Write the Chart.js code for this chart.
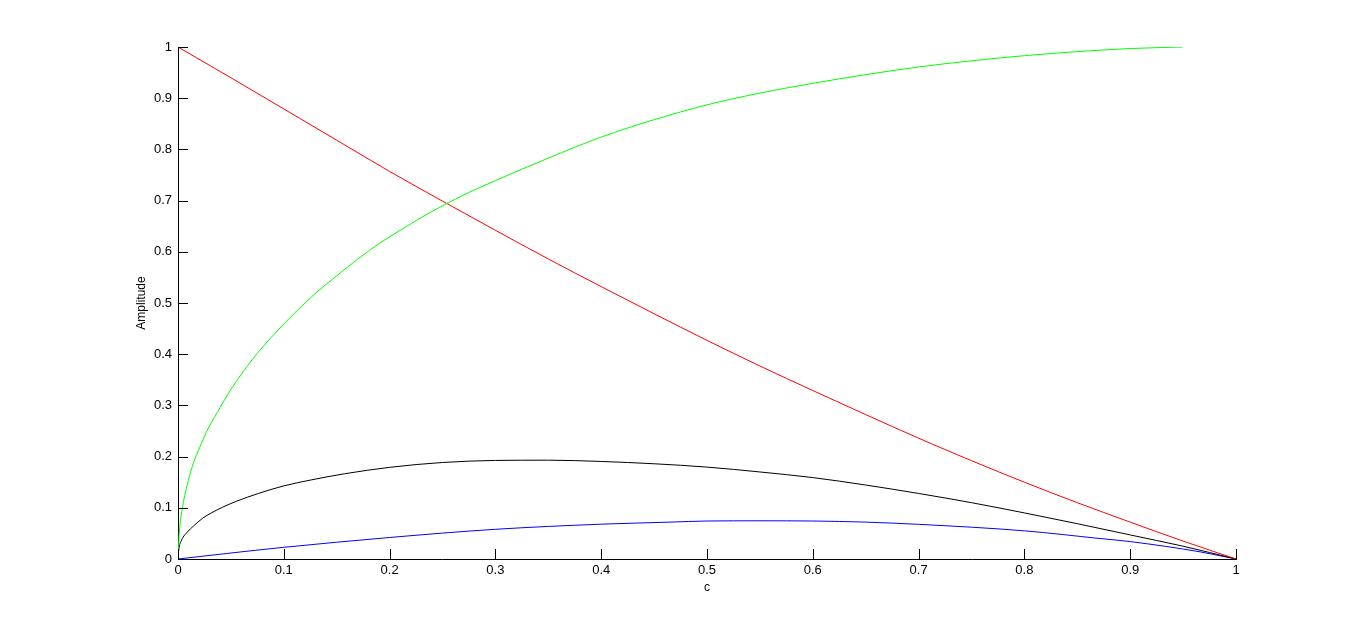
<!DOCTYPE html>
<html>
<head>
<meta charset="utf-8">
<script src="https://cdn.jsdelivr.net/npm/chart.js@4.4.0/dist/chart.umd.min.js"></script>
<style>
html,body{margin:0;padding:0;background:#fff;}
#wrap{width:1366px;height:628px;}
</style>
</head>
<body>
<div id="wrap"><canvas id="c" width="1366" height="628"></canvas></div>
<script>
// Tick positions
const xTicks = [0,0.1,0.2,0.3,0.4,0.5,0.6,0.7,0.8,0.9,1];
const yTicks = [0,0.1,0.2,0.3,0.4,0.5,0.6,0.7,0.8,0.9,1];

// Red series
const redC = [0,0.05,0.1,0.15,0.2,0.25,0.3,0.35,0.4,0.45,0.5,0.55,0.6,0.65,0.7,0.75,0.8,0.85,0.9,0.95,1];
const redV = [1,0.94,0.879,0.818,0.757,0.699,0.642,0.586,0.532,0.479,0.427,0.377,0.329,0.282,0.236,0.192,0.150,0.110,0.072,0.035,0];

// Green series
const greenC = [0,0.0012,0.0044,0.0098,0.0145,0.0208,0.0271,0.0366,0.05,0.07,0.09,0.11,0.13,0.15,0.17,0.19,0.21,0.23,0.25,0.275,0.3,0.35,0.4,0.45,0.5,0.55,0.6,0.65,0.7,0.75,0.8,0.85,0.9,0.9496];
const greenV = [0,0.05,0.102,0.154,0.187,0.219,0.249,0.2845,0.331,0.389,0.437,0.480,0.519,0.553,0.586,0.616,0.642,0.667,0.690,0.716,0.739,0.783,0.824,0.858,0.887,0.910,0.929,0.946,0.961,0.973,0.983,0.991,0.997,1.0];

// Black series
const blackC = [0,0.0006,0.0035,0.009,0.0145,0.0232,0.0315,0.042,0.0555,0.076,0.0996,0.126,0.1575,0.2,0.25,0.3,0.35,0.4,0.45,0.5,0.55,0.6,0.65,0.7,0.75,0.8,0.85,0.9,0.95,1];
const blackV = [0,0.016,0.037,0.053,0.064,0.0795,0.090,0.101,0.113,0.128,0.1426,0.1545,0.1665,0.179,0.1885,0.1925,0.193,0.1905,0.186,0.1795,0.170,0.159,0.1445,0.128,0.110,0.090,0.069,0.047,0.025,0];

// Blue series
const blueC = [0,0.047,0.1,0.2,0.3,0.4,0.465,0.5,0.55,0.6,0.65,0.7,0.8,0.8715,0.9,0.966,1];
const blueV = [0,0.011,0.0228,0.042,0.058,0.068,0.072,0.0742,0.0746,0.0742,0.072,0.0677,0.055,0.040,0.034,0.014,0];

const toPts = (cs, vs) => cs.map((c, i) => ({x: c, y: vs[i]}));
const fmt = v => (Math.round(v * 10) / 10).toString();

const inwardTicks = {
  id: 'inwardTicks',
  afterDatasetsDraw(chart) {
    const {ctx, chartArea: a, scales: {x, y}} = chart;
    ctx.save();
    ctx.strokeStyle = '#000';
    ctx.lineWidth = 1;
    ctx.beginPath();
    xTicks.forEach(v => {
      const px = Math.round(x.getPixelForValue(v)) + 0.5;
      ctx.moveTo(px, a.bottom);
      ctx.lineTo(px, a.bottom - 10);
    });
    yTicks.forEach(v => {
      const py = Math.round(y.getPixelForValue(v)) + 0.5;
      ctx.moveTo(a.left, py);
      ctx.lineTo(a.left + 10, py);
    });
    ctx.stroke();
    ctx.restore();
  }
};

const tickFont = {family: "'Liberation Sans', Arial, sans-serif", size: 13};
const titleFont = {family: "'Liberation Sans', Arial, sans-serif", size: 12};

new Chart(document.getElementById('c'), {
  type: 'line',
  data: {
    datasets: [
      {data: toPts(greenC, greenV), borderColor: '#00ff00'},
      {data: toPts(redC, redV), borderColor: '#ff0000'},
      {data: toPts(blackC, blackV), borderColor: '#000000'},
      {data: toPts(blueC, blueV), borderColor: '#0000ff'}
    ]
  },
  options: {
    responsive: false,
    animation: false,
    layout: {padding: {left: 134, right: 130, top: 47, bottom: 33}},
    plugins: {legend: {display: false}, tooltip: {enabled: false}},
    elements: {
      point: {radius: 0},
      line: {borderWidth: 1, tension: 0, cubicInterpolationMode: 'monotone', fill: false}
    },
    scales: {
      x: {
        type: 'linear', min: 0, max: 1,
        afterFit(s) { s.height = 36; },
        afterBuildTicks(s) { s.ticks = xTicks.map(v => ({value: v})); },
        grid: {display: false, drawTicks: false},
        border: {display: true, color: '#000', width: 1},
        ticks: {padding: 4, color: '#000', font: tickFont, maxRotation: 0, autoSkip: false, callback: v => fmt(v)},
        title: {display: true, text: 'c', color: '#000', font: titleFont, padding: 0}
      },
      y: {
        type: 'linear', min: 0, max: 1,
        afterFit(s) { s.width = 44; },
        afterBuildTicks(s) { s.ticks = yTicks.map(v => ({value: v})); },
        grid: {display: false, drawTicks: false},
        border: {display: true, color: '#000', width: 1},
        ticks: {padding: 6, color: '#000', font: tickFont, autoSkip: false, callback: v => fmt(v)},
        title: {display: true, text: 'Amplitude', color: '#000', font: titleFont, padding: 0}
      }
    }
  },
  plugins: [inwardTicks]
});
</script>
</body>
</html>
